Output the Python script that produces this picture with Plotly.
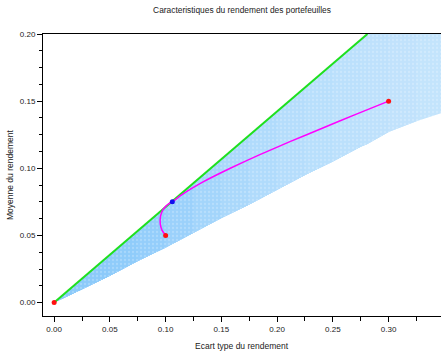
import plotly.graph_objects as go

# ---- data ----
assets_std = [0.0, 0.10, 0.30]
assets_mean = [0.0, 0.05, 0.15]

tangent_std = [0.106]
tangent_mean = [0.075]

cml_std = [0.0, 0.281]
cml_mean = [0.0, 0.200]

frontier_std = [0.100, 0.0967, 0.0953, 0.0951, 0.0958, 0.0975, 0.1003, 0.1030, 0.106,
                0.114, 0.134, 0.158, 0.184, 0.212, 0.241, 0.270, 0.300]
frontier_mean = [0.050, 0.054, 0.058, 0.062, 0.0655, 0.069, 0.0718, 0.0737, 0.075,
                 0.080, 0.090, 0.100, 0.110, 0.120, 0.130, 0.140, 0.150]

# outline of the cloud of random portfolios (upper and lower edges)
cloud_x = [0.0, 0.025, 0.05, 0.075, 0.10, 0.125, 0.15, 0.175, 0.20, 0.225, 0.25,
           0.275, 0.281, 0.30, 0.325, 0.347]
cloud_upper = [0.0, 0.0178, 0.0355, 0.0533, 0.071, 0.0888, 0.1065, 0.1243, 0.142, 0.1598,
               0.1775, 0.1953, 0.200, 0.200, 0.200, 0.200]
cloud_lower = [0.0, 0.010, 0.020, 0.031, 0.041, 0.052, 0.063, 0.073, 0.084, 0.095, 0.105,
               0.116, 0.118, 0.127, 0.135, 0.141]
# apparent density of the dots in each band
cloud_cover = [0.97, 0.96, 0.93, 0.89, 0.83, 0.77, 0.71, 0.66, 0.62, 0.59, 0.57, 0.55,
               0.54, 0.52, 0.50]

x_tick_vals = [0.0, 0.05, 0.10, 0.15, 0.20, 0.25, 0.30]
x_tick_text = ["0.00", "0.05", "0.10", "0.15", "0.20", "0.25", "0.30"]
y_tick_vals = [0.0, 0.05, 0.10, 0.15, 0.20]
y_tick_text = ["0.00", "0.05", "0.10", "0.15", "0.20"]

dot_rgb = (135, 200, 250)


def blend(a):
    r, g, b = dot_rgb
    return "rgb(%d,%d,%d)" % (round(255 + (r - 255) * a), round(255 + (g - 255) * a),
                              round(255 + (b - 255) * a))


fig = go.Figure()

# cloud: nested polygons, from the widest (lightest) to the narrowest (densest)
n = len(cloud_x)
for k in range(n - 1, 0, -1):
    xs = cloud_x[:k + 1] + cloud_x[:k + 1][::-1]
    ys = cloud_upper[:k + 1] + cloud_lower[:k + 1][::-1]
    fig.add_trace(go.Scatter(x=xs, y=ys, mode="lines", fill="toself",
                             fillcolor=blend(cloud_cover[k - 1]),
                             line=dict(width=0), hoverinfo="skip", showlegend=False))

# speckle texture over the whole cloud
fig.add_trace(go.Scatter(x=cloud_x + cloud_x[::-1], y=cloud_upper + cloud_lower[::-1],
                         mode="lines", fill="toself", fillcolor="rgba(0,0,0,0)",
                         fillpattern=dict(shape=".", fgcolor="rgba(255,255,255,0.45)",
                                          bgcolor="rgba(0,0,0,0)", size=4, solidity=0.25),
                         line=dict(width=0), hoverinfo="skip", showlegend=False))

fig.add_trace(go.Scatter(x=cml_std, y=cml_mean, mode="lines",
                         line=dict(color="#1ee01e", width=2), showlegend=False))
fig.add_trace(go.Scatter(x=frontier_std, y=frontier_mean, mode="lines",
                         line=dict(color="#ff00ff", width=1.5, shape="spline", smoothing=0.6),
                         showlegend=False))
fig.add_trace(go.Scatter(x=assets_std, y=assets_mean, mode="markers",
                         marker=dict(color="#ff1010", size=5), showlegend=False))
fig.add_trace(go.Scatter(x=tangent_std, y=tangent_mean, mode="markers",
                         marker=dict(color="#1010ee", size=5), showlegend=False))

font = "Liberation Sans, Arial, Helvetica, sans-serif"
fig.update_layout(
    width=441, height=351,
    margin=dict(l=43, r=0, t=34, b=35),
    paper_bgcolor="white", plot_bgcolor="white",
    font=dict(family=font, size=8, color="#222"),
    title=dict(text="Caracteristiques du rendement des portefeuilles",
               x=0.5, xref="paper", y=1 - 10 / 351, yref="container",
               xanchor="center", yanchor="middle",
               font=dict(family=font, size=8.4, color="#222")),
    xaxis=dict(range=[-0.01, 0.347], tickvals=x_tick_vals, ticktext=x_tick_text,
               ticks="outside", ticklen=5, tickcolor="black", showgrid=False, zeroline=False,
               showline=True, linecolor="black", linewidth=1, mirror=True,
               minor=dict(dtick=0.025, tick0=0, ticks="outside", ticklen=4, tickcolor="black")),
    yaxis=dict(range=[-0.01, 0.20], tickvals=y_tick_vals, ticktext=y_tick_text,
               ticks="outside", ticklen=5, tickcolor="black", showgrid=False, zeroline=False,
               showline=True, linecolor="black", linewidth=1,
               minor=dict(dtick=0.0125, tick0=0, ticks="outside", ticklen=3, tickcolor="black")),
    annotations=[
        dict(text="Ecart type du rendement", xref="paper", yref="paper",
             x=0.5, y=-(346 - 316) / 282, xanchor="center", yanchor="middle",
             showarrow=False, font=dict(family=font, size=8.5, color="#222")),
        dict(text="Moyenne du rendement", xref="paper", yref="paper",
             x=(10 - 43) / 398, y=0.5, xanchor="center", yanchor="middle", textangle=-90,
             showarrow=False, font=dict(family=font, size=8.5, color="#222")),
    ],
)

fig.write_html("out.html")
